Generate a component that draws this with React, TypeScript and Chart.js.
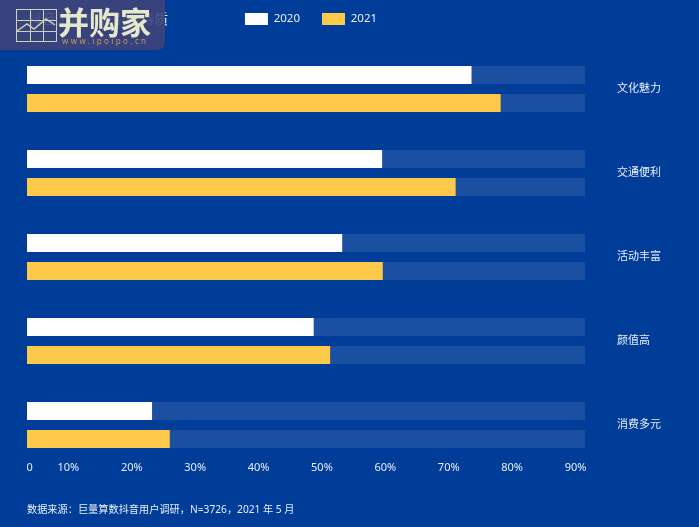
import React, { useEffect, useRef } from "react";
import { Chart, registerables } from "chart.js";

Chart.register(...registerables);

const categories = ["文化魅力", "交通便利", "活动丰富", "颜值高", "消费多元"];
const values2020 = [73.6, 59.5, 53.2, 48.7, 23.2];
const values2021 = [78.2, 71.1, 59.6, 51.3, 26.0];
const tickValues = [3.9, 10, 20, 30, 40, 50, 60, 70, 80, 90];
const tickLabels = ["0", "10%", "20%", "30%", "40%", "50%", "60%", "70%", "80%", "90%"];
const titleText = "抖音上城市吸引力特质";
const footerText = "数据来源：巨量算数抖音用户调研，N=3726，2021 年 5 月";
const logoText = "并购家";
const logoUrl = "www.ipoipo.cn";

const AXIS_MIN = 3.47;
const AXIS_MAX = 91.5;
const BG = "#003d98";
const TRACK = "#1a4fa1";
const GOLD = "#fdc94b";
const TEXT = "#e9eef7";
const FONT = '"Noto Sans", "Noto Sans CJK SC", sans-serif';
const BAR_CLIP = { left: 0, right: 0, top: 50, bottom: 50 };

const legendPlacement = {
  id: "legendPlacement",
  beforeLayout(chart: any) {
    const legend = chart.legend;
    if (!legend || legend.__placed) return;
    legend.__placed = true;
    const fit = legend.fit;
    legend.fit = function () {
      fit.call(this);
      this.height = 89;
    };
    const draw = legend.draw;
    legend.draw = function () {
      const { top, left, right } = this;
      this.top = top - 9;
      this.left = left + 5;
      this.right = right + 5;
      draw.call(this);
      this.top = top;
      this.left = left;
      this.right = right;
    };
  },
};

const overlay = {
  id: "overlay",
  afterDraw(chart: any) {
    const c = chart.ctx;
    c.save();
    c.textBaseline = "middle";
    c.textAlign = "left";
    c.fillStyle = TEXT;
    c.font = `10.2px ${FONT}`;
    c.fillText(footerText, 27, 510.5);
    c.font = `14px ${FONT}`;
    c.fillText(titleText, 28, 20);

    // watermark
    c.fillStyle = "rgba(62,68,122,0.9)";
    c.beginPath();
    c.roundRect(-8, -8, 173, 58, 8);
    c.fill();
    c.strokeStyle = "#cfd2b4";
    c.lineWidth = 1;
    c.strokeRect(16.5, 9.5, 40, 32);
    c.beginPath();
    [30, 43].forEach((x) => {
      c.moveTo(x + 0.5, 9.5);
      c.lineTo(x + 0.5, 41.5);
    });
    [20, 31].forEach((y) => {
      c.moveTo(16.5, y + 0.5);
      c.lineTo(56.5, y + 0.5);
    });
    c.stroke();
    c.lineWidth = 1.5;
    c.beginPath();
    c.moveTo(17, 31);
    c.lineTo(27, 24);
    c.lineTo(34, 29);
    c.lineTo(46, 19);
    c.lineTo(55, 25);
    c.stroke();
    c.fillStyle = "#e6e8cc";
    c.font = `bold 31px "Noto Sans CJK SC", sans-serif`;
    c.fillText(logoText, 58, 22);
    c.fillStyle = "#c0995f";
    c.font = `8px ${FONT}`;
    (c as any).letterSpacing = "2.4px";
    c.fillText(logoUrl, 62, 42);
    c.restore();
  },
};

export default function App() {
  const ref = useRef<HTMLCanvasElement>(null);
  useEffect(() => {
    const trackOf = (arr: number[]) => arr.map((v) => AXIS_MAX - v);
    const chart = new Chart(ref.current!, {
      type: "bar",
      plugins: [legendPlacement, overlay],
      data: {
        labels: categories,
        datasets: [
          { label: "2020", data: values2020, backgroundColor: "#ffffff", stack: "a", clip: BAR_CLIP },
          { label: "track2020", data: trackOf(values2020), backgroundColor: TRACK, stack: "a", clip: BAR_CLIP },
          { label: "2021", data: values2021, backgroundColor: GOLD, stack: "b", clip: BAR_CLIP },
          { label: "track2021", data: trackOf(values2021), backgroundColor: TRACK, stack: "b", clip: BAR_CLIP },
        ],
      },
      options: {
        indexAxis: "y",
        animation: false,
        responsive: false,
        layout: { padding: { left: 27, right: 0, top: 0, bottom: 0 } },
        datasets: { bar: { categoryPercentage: 2 / 3, barPercentage: 18 / 28 } },
        scales: {
          x: {
            stacked: true,
            min: AXIS_MIN,
            max: AXIS_MAX,
            grid: { display: false, drawTicks: false },
            border: { display: false },
            afterFit(scale: any) {
              scale.height = 102;
              scale.paddingLeft = 0;
              scale.paddingRight = 0;
            },
            afterBuildTicks(scale: any) {
              scale.ticks = tickValues.map((value) => ({ value }));
            },
            ticks: {
              autoSkip: false,
              maxRotation: 0,
              padding: 36,
              color: TEXT,
              font: { size: 11, family: FONT },
              callback: (_v: any, i: number) => tickLabels[i],
            },
          },
          y: {
            stacked: true,
            offset: false,
            position: "right",
            grid: { display: false, drawTicks: false },
            border: { display: false },
            afterFit(scale: any) {
              scale.width = 114;
            },
            ticks: {
              crossAlign: "near",
              padding: 32,
              color: TEXT,
              font: { size: 11, family: FONT },
            },
          },
        },
        plugins: {
          tooltip: { enabled: false },
          title: { display: false },
          legend: {
            display: true,
            position: "top",
            align: "center",
            fullSize: false,
            labels: {
              boxWidth: 23,
              boxHeight: 12,
              padding: 22,
              color: TEXT,
              font: { size: 11.5, family: FONT },
              filter: (item: any) => !item.text.startsWith("track"),
            },
          },
        },
      },
    } as any);
    return () => chart.destroy();
  }, []);
  return (
    <div style={{ position: "fixed", left: 0, top: 0, width: 699, height: 527, background: BG }}>
      <canvas ref={ref} width={699} height={527} style={{ display: "block" }} />
    </div>
  );
}
